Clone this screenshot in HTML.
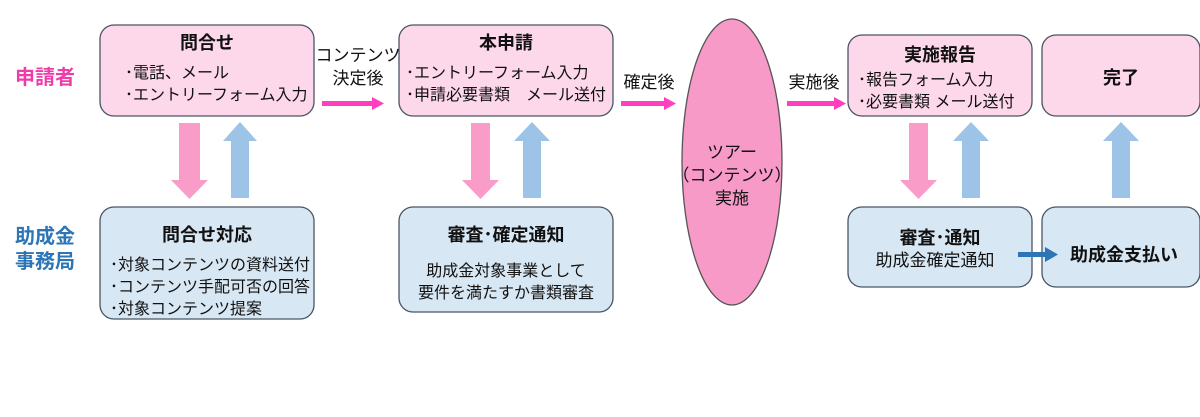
<!DOCTYPE html>
<html><head><meta charset="utf-8"><style>
body{margin:0;background:#fff}
svg text{font-family:"Liberation Sans","Noto Sans CJK JP",sans-serif;fill:#111}
.b{font-weight:bold}
</style></head><body>
<svg width="1200" height="412" viewBox="0 0 1200 412" xmlns="http://www.w3.org/2000/svg">
<g stroke="#4a5563" stroke-width="1.3">
<rect x="100" y="25" width="214" height="91" rx="14" fill="#fdd7ea"/>
<rect x="100" y="207" width="214" height="112" rx="14" fill="#d8e7f4"/>
<rect x="399" y="25" width="214" height="91" rx="14" fill="#fdd7ea"/>
<rect x="399" y="207" width="214" height="105" rx="14" fill="#d8e7f4"/>
<rect x="848" y="35" width="184" height="81" rx="14" fill="#fdd7ea"/>
<rect x="1042" y="35" width="158" height="81" rx="14" fill="#fdd7ea"/>
<rect x="848" y="207" width="184" height="80" rx="14" fill="#d8e7f4"/>
<rect x="1042" y="207" width="158" height="80" rx="14" fill="#d8e7f4"/>
<ellipse cx="732" cy="162" rx="50" ry="143" fill="#f89ac8" stroke="#555"/>
</g>
<g fill="#f99cc8">
<polygon points="179,123 200,123 200,180 208,180 189.5,199 171,180 179,180"/>
<polygon points="471,123 490,123 490,180 499,180 480.5,199 462,180 471,180"/>
<polygon points="909,123 928,123 928,180 937,180 918.5,199 900,180 909,180"/>
</g>
<g fill="#9dc3e6">
<polygon points="231,198 249,198 249,141 257,141 240,122 223,141 231,141"/>
<polygon points="523,198 541,198 541,141 550,141 532,122 514,141 523,141"/>
<polygon points="962,198 980,198 980,141 989,141 971,122 953,141 962,141"/>
<polygon points="1112,198 1130,198 1130,141 1139,141 1121,122 1103,141 1112,141"/>
</g>
<g fill="#ff3fbf">
<polygon points="322,101 372,101 372,97 384,103.5 372,110 372,106 322,106"/>
<polygon points="621,101 664,101 664,97 676,103.5 664,110 664,106 621,106"/>
<polygon points="787,101 834,101 834,97 846,103.5 834,110 834,106 787,106"/>
</g>
<polygon points="1018,252 1045,252 1045,247 1058,254.5 1045,262 1045,257 1018,257" fill="#2e75b6"/>
<text x="15" y="84" font-size="20" class="b" style="fill:#f03ca8">申請者</text>
<text x="15" y="243" font-size="20" class="b" style="fill:#2e75b6">助成金</text>
<text x="15" y="268" font-size="20" class="b" style="fill:#2e75b6">事務局</text>
<text x="207" y="49" font-size="18" class="b" text-anchor="middle">問合せ</text>
<text x="125" y="78" font-size="16">･電話、メール</text>
<text x="125" y="100" font-size="16">･エントリーフォーム入力</text>
<text x="207" y="241" font-size="18" class="b" text-anchor="middle">問合せ対応</text>
<text x="110" y="270" font-size="16">･対象コンテンツの資料送付</text>
<text x="110" y="292" font-size="16">･コンテンツ手配可否の回答</text>
<text x="110" y="314" font-size="16">･対象コンテンツ提案</text>
<text x="358" y="61" font-size="17" text-anchor="middle">コンテンツ</text>
<text x="358" y="84" font-size="17" text-anchor="middle">決定後</text>
<text x="649" y="88" font-size="17" text-anchor="middle">確定後</text>
<text x="814" y="88" font-size="17" text-anchor="middle">実施後</text>
<text x="506" y="49" font-size="18" class="b" text-anchor="middle">本申請</text>
<text x="406" y="78" font-size="16">･エントリーフォーム入力</text>
<text x="406" y="100" font-size="16">･申請必要書類　メール送付</text>
<text x="506" y="241" font-size="18" class="b" text-anchor="middle">審査･確定通知</text>
<text x="506" y="276" font-size="16" text-anchor="middle">助成金対象事業として</text>
<text x="506" y="298" font-size="16" text-anchor="middle">要件を満たすか書類審査</text>
<text x="732" y="158" font-size="17" text-anchor="middle">ツアー</text>
<text x="732" y="181" font-size="17" text-anchor="middle">（コンテンツ）</text>
<text x="732" y="204" font-size="17" text-anchor="middle">実施</text>
<text x="940" y="61" font-size="18" class="b" text-anchor="middle">実施報告</text>
<text x="858" y="85" font-size="16">･報告フォーム入力</text>
<text x="858" y="107" font-size="16">･必要書類 メール送付</text>
<text x="1121" y="84" font-size="18" class="b" text-anchor="middle">完了</text>
<text x="940" y="244" font-size="18" class="b" text-anchor="middle">審査･通知</text>
<text x="935" y="266" font-size="17" text-anchor="middle">助成金確定通知</text>
<text x="1124" y="261" font-size="18" class="b" text-anchor="middle">助成金支払い</text>
</svg>
</body></html>
